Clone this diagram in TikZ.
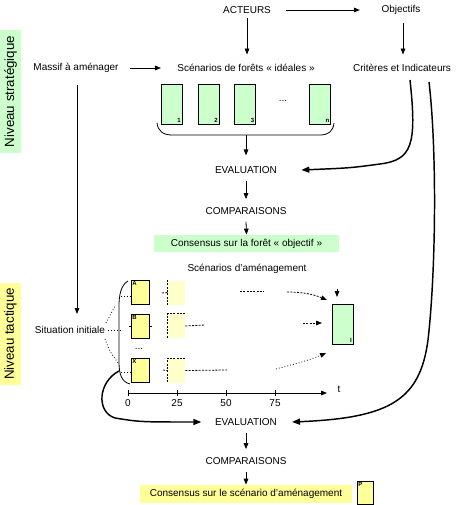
\documentclass[tikz,border=0pt]{standalone}
\usepackage{fontspec}
\setmainfont{Liberation Sans}
\usetikzlibrary{arrows.meta}
\definecolor{lgreen}{HTML}{CCFFCC}
\definecolor{lyel}{HTML}{FFFF99}
\definecolor{pyel}{HTML}{FFFFCC}
\begin{document}
\begin{tikzpicture}[x=0.75pt,y=-0.75pt, line width=0.6pt,
 txt/.style={font=\fontsize{7.5}{9}\selectfont, inner sep=0pt},
 arr/.style={-{Triangle[length=4.5pt,width=3.5pt]}},
 big/.style={line width=1.1pt, -{Triangle[length=6pt,width=4.5pt]}},
 gbox/.style={draw, fill=lgreen, minimum width=15.75pt, minimum height=30pt, inner sep=0pt},
 ybox/.style={draw, fill=lyel, minimum width=13.5pt, minimum height=18pt, inner sep=0pt},
 pbox/.style={fill=pyel, minimum width=12.75pt, minimum height=18pt, inner sep=0pt},
 tiny/.style={font=\fontsize{4.5}{5}\selectfont\bfseries, inner sep=1pt},
 side/.style={rotate=90, minimum height=15.75pt, inner sep=0pt, font=\fontsize{10}{12}\selectfont},
 dsh/.style={dash pattern=on 1.5pt off 1pt},
 dts/.style={dash pattern=on 0.6pt off 1.6pt},
]
\useasboundingbox (0,0) rectangle (460,505);

% side labels
\node[side, fill=lgreen, minimum width=92.25pt] (strat) at (10.5,91.5) {Niveau stratégique};
\node[side, fill=lyel, minimum width=76.5pt] (tact) at (10.5,334) {Niveau tactique};

% strategic level
\node[txt] (act) at (247,10) {ACTEURS};
\node[txt] (obj) at (401,10) {Objectifs};
\node[txt] (massif) at (76,68) {Massif à aménager};
\node[txt] (scen) at (246,68) {Scénarios de forêts « idéales »};
\node[txt] (crit) at (402,68) {Critères et Indicateurs};

\draw[arr] ([xshift=11]act.east) -- ([xshift=-16]obj.west);
\draw[arr] ([yshift=-3]act.south) -- ([yshift=7]act.south |- scen.north);
\draw[arr] ([yshift=-6]obj.south -| 403,0) -- ([yshift=7]crit.north -| 403,0);
\draw[arr] ([xshift=8]massif.east) -- ([xshift=-12]scen.west);

\node[gbox] (g1) at (171.5,104) {};
\node[gbox] (g2) at (208.5,104) {};
\node[gbox] (g3) at (245,104) {};
\node[gbox] (gn) at (320,104) {};
\node[txt] (gdots) at (283,101) {...};
\node[tiny, anchor=south east] (l1) at (g1.south east) {1};
\node[tiny, anchor=south east] (l2) at (g2.south east) {2};
\node[tiny, anchor=south east] (l3) at (g3.south east) {3};
\node[tiny, anchor=south east] (ln) at (gn.south east) {n};

\coordinate (bl) at (157,123);
\coordinate (br) at (334,123);
\coordinate (bm) at (246,135);
\draw (bl) .. controls (158,131) and (163,135) .. (172,135) -- (320,135) .. controls (329,135) and (333,131) .. (br);

\node[txt] (eval1) at (246,170) {EVALUATION};
\node[txt] (comp1) at (246,211) {COMPARAISONS};
\node[txt, fill=lgreen, minimum width=138.75pt, minimum height=12.75pt] (cons1) at (246.5,243.5) {Consensus sur la forêt « objectif »};

\draw[arr] (bm) -- ([yshift=8]eval1.north);
\draw[arr] ([yshift=-5]eval1.south) -- ([yshift=6]comp1.north);
\draw[arr] ([yshift=-5]comp1.south) -- (cons1.north);

\coordinate (c1s) at (410,80);
\coordinate (c2s) at (429,82);
\draw[big] (c1s) .. controls (417,145) and (412,160) .. (380,164) .. controls (350,168) .. ([xshift=18]eval1.east);

% tactical level
\node[txt] (scenam) at (247,269) {Scénarios d'aménagement};
\node[txt] (sit) at (70,330) {Situation initiale};
\draw[arr] (massif.south -| 77,0) ++(0,12) -- (77,314);

\node[ybox] (ya) at (140,292.5) {};
\node[ybox] (yb) at (140,326) {};
\node[ybox] (yx) at (140,370.5) {};
\node[txt] (ydots) at (139,349) {...};
\node[tiny, anchor=north west] (la) at (ya.north west) {A};
\node[tiny, anchor=north west] (lb) at (yb.north west) {B};
\node[tiny, anchor=north west] (lx) at (yx.north west) {X};

\node[pbox] (d1) at (176.5,292.5) {};
\node[pbox] (d2) at (176.5,326) {};
\node[pbox] (d3) at (176.5,370.5) {};
\draw[dsh] (d1.north west) -- (d1.south west);
\draw[dsh] (d2.north east) -- (d2.north west) -- (d2.south west);
\draw[dsh] (d3.north east) -- (d3.north west) -- (d3.south west);

% left bracket
\coordinate (lbt) at (128,281);
\coordinate (lbb) at (130,384);
\draw (lbt) .. controls (121,285) and (119,295) .. (119,306) -- (119,362) .. controls (119,375) and (122,382) .. (lbb);

% dotted fan from situation initiale
\draw[dts] (106,323) -- (115,306);
\draw[dts] ([xshift=2]sit.east) -- (122,330);
\draw[dts] (105,339) .. controls (110,352) .. (119,364);
\draw[dts] (121,296) -- (130,296);
\draw[dts] (121,372) -- (130,372);
\draw (129,326) -- (131,326);
\draw (149,326) -- (152,326);

% scenario lines
\draw[dsh] (162,293) -- (d1.west);
\draw[dsh] (240,291) -- (264,291);
\draw[dsh, arr] (287,292) .. controls (305,292) and (315,295) .. (327,300);
\draw[dsh] (d2.east) -- (205,325);
\draw[dsh, arr] (303,323) -- (322,323);
\draw[dsh] (163,370) -- (d3.west);
\draw[dsh] (d3.east) -- (227,370);
\draw[dts, arr] (276,369) .. controls (295,364) and (310,360) .. (326,353);

\node[gbox] (gi) at (342.5,324) {};
\node[tiny, anchor=south east] (li) at (gi.south east) {I};
\draw[arr] (337,289) -- (337,297);

% time axis
\coordinate (t0) at (128,393);
\coordinate (tend) at (327,393);
\draw[arr] (t0) -- (tend);
\foreach \xx/\lab in {128/0,177/25,226/50,275/75} {
  \draw (\xx,390) -- (\xx,396);
  \node[txt] (tk\lab) at (\xx,403) {\lab};
}
\node[txt] (tl) at (339,389) {t};

\node[txt] (eval2) at (246,422) {EVALUATION};
\node[txt] (comp2) at (246,461) {COMPARAISONS};
\node[txt, fill=lyel, minimum width=159pt, minimum height=13.5pt] (cons2) at (246,494) {Consensus sur le scénario d'aménagement};
\node[ybox, minimum width=12pt, minimum height=17.25pt] (pp) at (365,492.5) {};
\node[tiny, anchor=north west] (lp) at (pp.north west) {P};

\draw[arr] ([yshift=-5]eval2.south) -- ([yshift=6]comp2.north);
\draw[arr] ([yshift=-5]comp2.south) -- (cons2.north);

\coordinate (lbc) at (119,371);
\draw[big] (lbc) .. controls (98,382) and (96,412) .. (115,418) .. controls (140,422) .. ([xshift=-10]eval2.west);
\draw[big] (c2s) .. controls (437,150) and (436,270) .. (428,340) .. controls (420,400) and (390,418) .. ([xshift=11]eval2.east);
\end{tikzpicture}
\end{document}
